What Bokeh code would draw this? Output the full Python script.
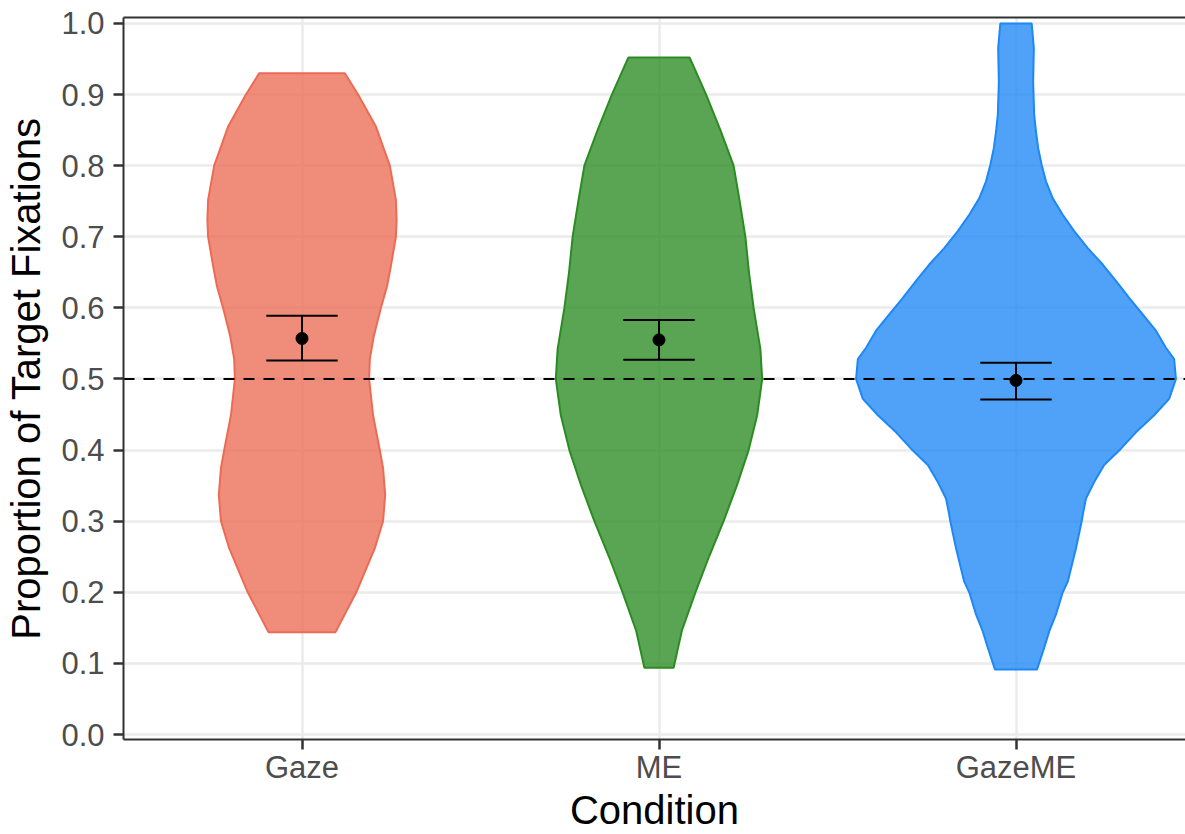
from bokeh.plotting import figure
from bokeh.models import Range1d, FixedTicker, LinearAxis, Span
from bokeh.embed import file_html
from bokeh.resources import INLINE

# ---------------- data ----------------
categories = ["Gaze", "ME", "GazeME"]
means = [0.557, 0.555, 0.498]
ci_low = [0.526, 0.527, 0.471]
ci_high = [0.589, 0.583, 0.523]
chance_level = 0.5

# violin outlines: y levels and half-widths (in category units)
gaze_y = [0.144, 0.200, 0.262, 0.300, 0.337, 0.375, 0.400, 0.449, 0.500, 0.528,
          0.560, 0.600, 0.630, 0.659, 0.700, 0.724, 0.752, 0.800, 0.855, 0.900, 0.930]
gaze_w = [0.094, 0.152, 0.204, 0.227, 0.233, 0.227, 0.218, 0.199, 0.188, 0.190,
          0.201, 0.221, 0.238, 0.249, 0.263, 0.265, 0.263, 0.246, 0.207, 0.157, 0.120]

me_y = [0.094, 0.146, 0.200, 0.250, 0.300, 0.350, 0.400, 0.449, 0.500, 0.542,
        0.600, 0.650, 0.700, 0.750, 0.800, 0.850, 0.900, 0.952]
me_w = [0.041, 0.064, 0.102, 0.140, 0.181, 0.218, 0.251, 0.275, 0.289, 0.284,
        0.265, 0.252, 0.242, 0.226, 0.209, 0.172, 0.132, 0.086]

gazeme_y = [0.0915, 0.122, 0.145, 0.169, 0.200, 0.215, 0.262, 0.300, 0.309, 0.332,
            0.355, 0.379, 0.402, 0.425, 0.449, 0.472, 0.500, 0.528, 0.544, 0.568,
            0.591, 0.614, 0.638, 0.661, 0.684, 0.708, 0.731, 0.754, 0.778, 0.801,
            0.825, 0.848, 0.871, 0.918, 0.965, 1.000]
gazeme_w = [0.059, 0.079, 0.093, 0.112, 0.131, 0.145, 0.168, 0.184, 0.187, 0.196,
            0.219, 0.247, 0.294, 0.336, 0.387, 0.429, 0.448, 0.443, 0.420, 0.392,
            0.355, 0.317, 0.280, 0.243, 0.201, 0.163, 0.131, 0.103, 0.084, 0.072,
            0.062, 0.056, 0.051, 0.048, 0.050, 0.044]

violin_y = [gaze_y, me_y, gazeme_y]
violin_w = [gaze_w, me_w, gazeme_w]

y_ticks = [0.0, 0.1, 0.2, 0.3, 0.4, 0.5, 0.6, 0.7, 0.8, 0.9, 1.0]
y_tick_labels = ["0.0", "0.1", "0.2", "0.3", "0.4", "0.5", "0.6", "0.7", "0.8", "0.9", "1.0"]

# ---------------- styles ----------------
line_colors = ["#EC6B55", "#2C8C23", "#1E88F5"]
FILL_ALPHA = 0.78
FONT = "Liberation Sans"

W, H = 1185, 834
LEFT, TOP, BOTTOM = 123, 17, 80
PX_PER_UNIT = 357.0
x_start = 0.5
x_end = x_start + (W - LEFT) / PX_PER_UNIT

positions = [i + 1 for i in range(len(categories))]

p = figure(width=W, height=H, output_backend="svg", toolbar_location=None,
           x_range=Range1d(x_start, x_end), y_range=Range1d(-0.007, 1.0084),
           min_border_left=LEFT, min_border_right=0, min_border_top=TOP,
           min_border_bottom=BOTTOM, background_fill_color="white",
           border_fill_color="white")
p.outline_line_color = None

# grid
p.xgrid.ticker = FixedTicker(ticks=positions)
p.ygrid.ticker = FixedTicker(ticks=y_ticks)
for g in (p.xgrid, p.ygrid):
    g.grid_line_color = "#EBEBEB"
    g.grid_line_width = 2.5

# violins
for pos, ys, ws, col in zip(positions, violin_y, violin_w, line_colors):
    xs = [pos - w for w in ws] + [pos + w for w in reversed(ws)]
    yy = list(ys) + list(reversed(ys))
    p.patch(xs, yy, fill_color=col, fill_alpha=FILL_ALPHA,
            line_color=col, line_width=2)

# chance line
p.add_layout(Span(location=chance_level, dimension="width", line_color="black",
                  line_width=2, line_dash="11 9", level="glyph"))

# error bars
cap = 0.1
p.segment(x0=positions, y0=ci_low, x1=positions, y1=ci_high,
          line_color="black", line_width=2)
p.segment(x0=[x - cap for x in positions], y0=ci_low,
          x1=[x + cap for x in positions], y1=ci_low,
          line_color="black", line_width=2)
p.segment(x0=[x - cap for x in positions], y0=ci_high,
          x1=[x + cap for x in positions], y1=ci_high,
          line_color="black", line_width=2)
p.scatter(x=positions, y=means, size=12, color="black")

# axes
xa = p.xaxis[0]
xa.ticker = FixedTicker(ticks=positions)
xa.major_label_overrides = {pos: c for pos, c in zip(positions, categories)}
xa.axis_label = "Condition"

ya = p.yaxis[0]
ya.ticker = FixedTicker(ticks=y_ticks)
ya.major_label_overrides = {t: l for t, l in zip(y_ticks, y_tick_labels)}
ya.axis_label = "Proportion of Target Fixations"

for ax in (xa, ya):
    ax.axis_line_color = "#333333"
    ax.axis_line_width = 2
    ax.major_tick_line_color = "#333333"
    ax.major_tick_line_width = 2.5
    ax.major_tick_out = 10
    ax.major_tick_in = 0
    ax.minor_tick_line_color = None
    ax.major_label_text_font = FONT
    ax.major_label_text_font_size = "31px"
    ax.major_label_text_color = "#4D4D4D"
    ax.axis_label_text_font = FONT
    ax.axis_label_text_font_size = "40px"
    ax.axis_label_text_font_style = "normal"
    ax.axis_label_text_color = "black"
xa.major_label_standoff = 0
xa.axis_label_standoff = 0
ya.major_label_standoff = 9
ya.axis_label_standoff = 10

# top border of the panel
top = LinearAxis(ticker=FixedTicker(ticks=[]), major_label_text_font_size="0px",
                 axis_line_color="#333333", axis_line_width=2,
                 major_tick_line_color=None, minor_tick_line_color=None)
p.add_layout(top, "above")

open("out.html", "w").write(file_html(p, INLINE))
